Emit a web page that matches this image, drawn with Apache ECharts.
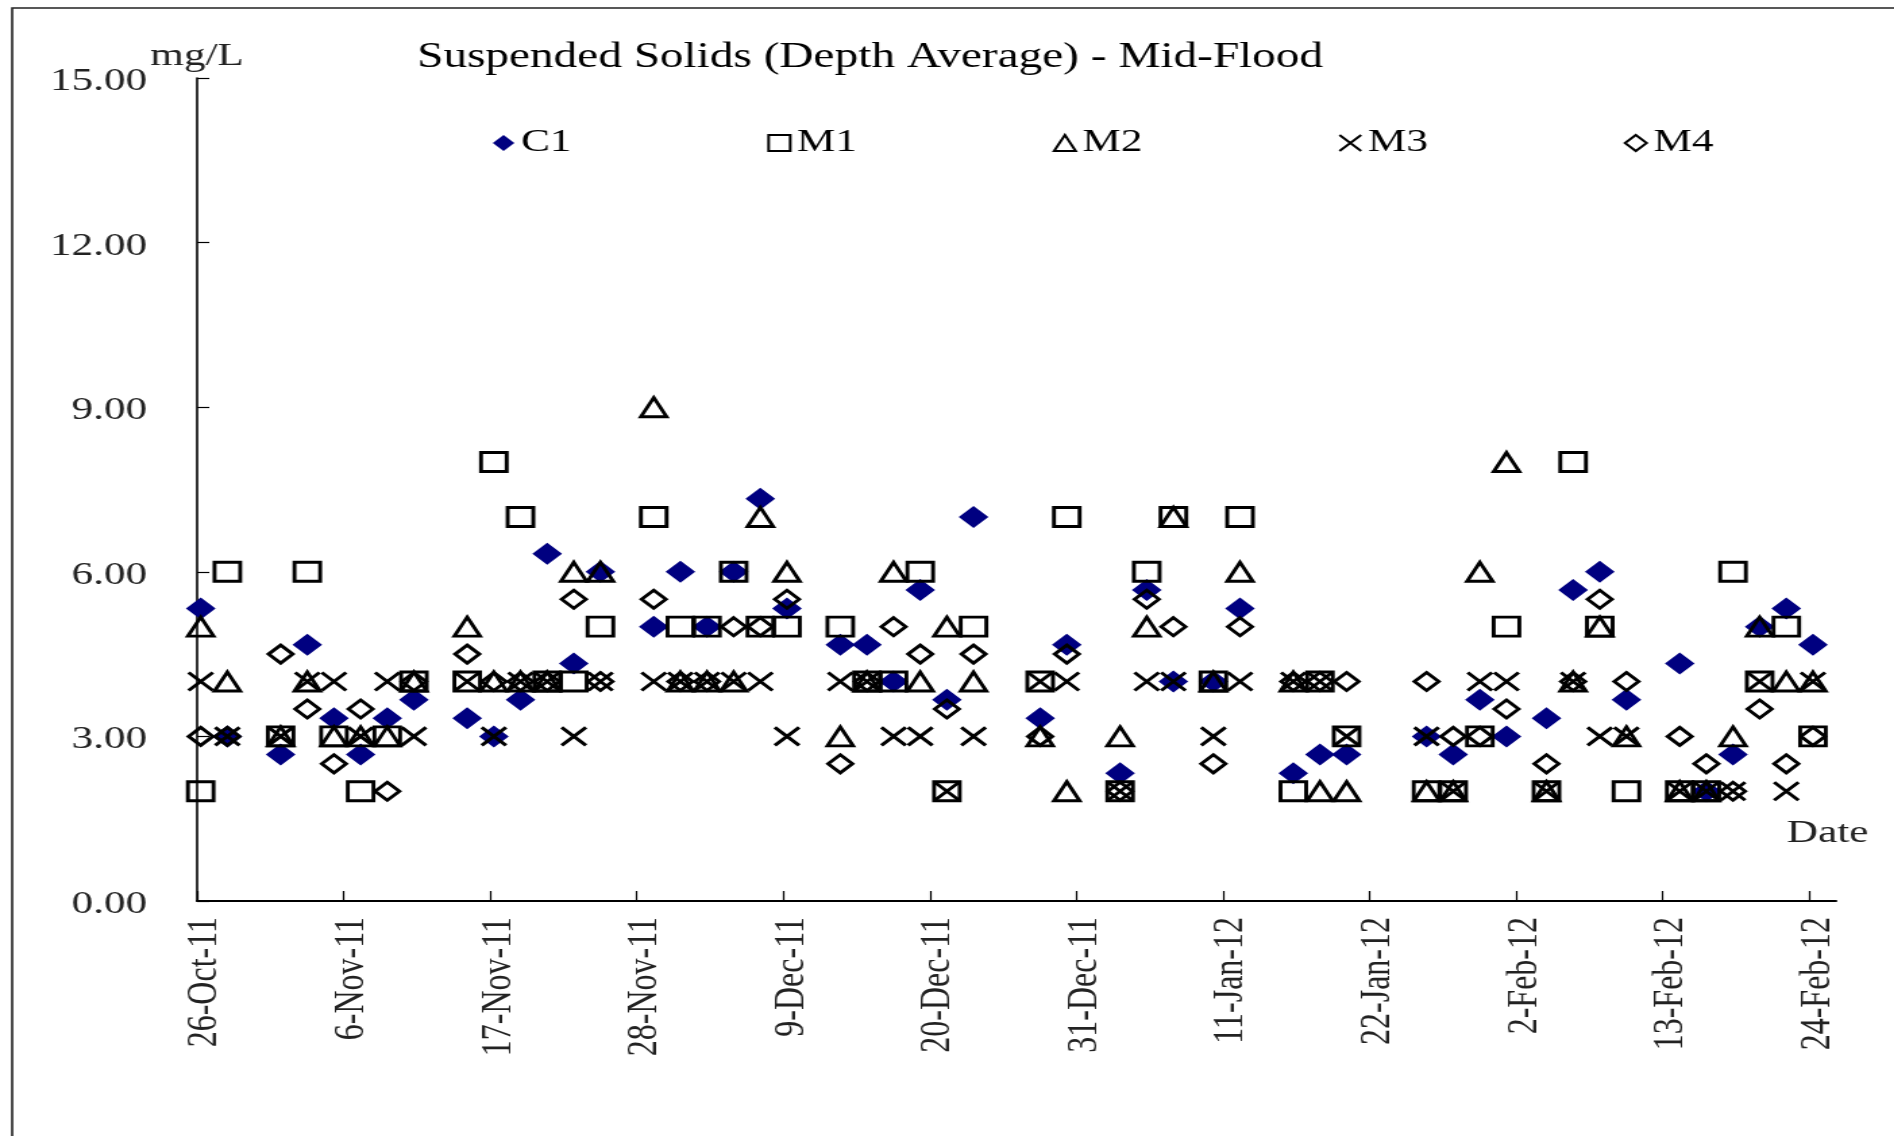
<!DOCTYPE html>
<html>
<head>
<meta charset="utf-8">
<title>Suspended Solids (Depth Average) - Mid-Flood</title>
<script src="https://cdn.jsdelivr.net/npm/echarts@6/dist/echarts.min.js"></script>
<style>
  html, body { margin: 0; padding: 0; background: #fff; overflow: hidden; }
  /* the chart is laid out on a narrower stage and widened horizontally */
  #stage { width: 1403px; height: 1136px; transform: scaleX(1.35); transform-origin: 0 0; }
</style>
</head>
<body>
<div id="stage"></div>
<script>
// Mid-flood sampling runs (date and approximate sampling time)
const sampleDates = [
  '2011-10-26T06:30', '2011-10-28T06:30', '2011-11-01T06:30', '2011-11-03T06:30', '2011-11-05T06:30',
  '2011-11-07T06:30', '2011-11-09T06:30', '2011-11-11T06:30', '2011-11-15T06:30', '2011-11-17T06:30',
  '2011-11-19T06:30', '2011-11-21T06:30', '2011-11-23T06:30', '2011-11-25T06:30', '2011-11-29T06:30',
  '2011-12-01T06:30', '2011-12-03T06:30', '2011-12-05T06:30', '2011-12-07T06:30', '2011-12-09T06:30',
  '2011-12-13T06:30', '2011-12-15T06:30', '2011-12-17T06:30', '2011-12-19T06:30', '2011-12-21T06:30',
  '2011-12-23T06:30', '2011-12-28T06:30', '2011-12-30T06:30', '2012-01-03T06:30', '2012-01-05T06:30',
  '2012-01-07T06:30', '2012-01-10T06:30', '2012-01-12T06:30', '2012-01-16T06:30', '2012-01-18T06:30',
  '2012-01-20T06:30', '2012-01-26T06:30', '2012-01-28T06:30', '2012-01-30T06:30', '2012-02-01T06:30',
  '2012-02-04T06:30', '2012-02-06T06:30', '2012-02-08T06:30', '2012-02-10T06:30', '2012-02-14T06:30',
  '2012-02-16T06:30', '2012-02-18T06:30', '2012-02-20T06:30', '2012-02-22T06:30', '2012-02-24T06:30'
];

// Depth-averaged suspended solids, mg/L, one value per sampling run
const C1 = [5.33, 3, 2.67, 4.67, 3.33, 2.67, 3.33, 3.67, 3.33, 3,
            3.67, 6.33, 4.33, 6, 5, 6, 5, 6, 7.33, 5.33,
            4.67, 4.67, 4, 5.67, 3.67, 7, 3.33, 4.67, 2.33, 5.67,
            4, 4, 5.33, 2.33, 2.67, 2.67, 3, 2.67, 3.67, 3,
            3.33, 5.67, 6, 3.67, 4.33, 2, 2.67, 5, 5.33, 4.67];
const M1 = [2, 6, 3, 6, 3, 2, 3, 4, 4, 8,
            7, 4, 4, 5, 7, 5, 5, 6, 5, 5,
            5, 4, 4, 6, 2, 5, 4, 7, 2, 6,
            7, 4, 7, 2, 4, 3, 2, 2, 3, 5,
            2, 8, 5, 2, 2, 2, 6, 4, 5, 3];
const M2 = [5, 4, 3, 4, 3, 3, 3, 4, 5, 4,
            4, 4, 6, 6, 9, 4, 4, 4, 7, 6,
            3, 4, 6, 4, 5, 4, 3, 2, 3, 5,
            7, 4, 6, 4, 2, 2, 2, 2, 6, 8,
            2, 4, 5, 3, 2, 2, 3, 5, 4, 4];
const M3 = [4, 3, 3, 4, 4, 3, 4, 3, 4, 3,
            4, 4, 3, 4, 4, 4, 4, 4, 4, 3,
            4, 4, 3, 3, 2, 3, 4, 4, 2, 4,
            4, 3, 4, 4, 4, 3, 3, 2, 4, 4,
            2, 4, 3, 3, 2, 2, 2, 4, 2, 4];
const M4 = [3, 3, 4.5, 3.5, 2.5, 3.5, 2, 4, 4.5, 4,
            4, 4, 5.5, 4, 5.5, 4, 4, 5, 5, 5.5,
            2.5, 4, 5, 4.5, 3.5, 4.5, 3, 4.5, 2, 5.5,
            5, 2.5, 5, 4, 4, 4, 4, 3, 3, 3.5,
            2.5, 4, 5.5, 4, 3, 2.5, 2, 3.5, 2.5, 3];

// Date axis: labelled every 11 days
const xTickLabels = ['26-Oct-11', '6-Nov-11', '17-Nov-11', '28-Nov-11', '9-Dec-11', '20-Dec-11',
                     '31-Dec-11', '11-Jan-12', '22-Jan-12', '2-Feb-12', '13-Feb-12', '24-Feb-12'];
const X_AXIS_START = '2011-10-26';
const X_AXIS_END = '2012-02-26';
const X_TICK_DAYS = 11;

// Concentration axis
const Y_MIN = 0, Y_MAX = 15, Y_STEP = 3;

const DAY_MS = 86400000;
const MONTHS = { Jan: 0, Feb: 1, Mar: 2, Apr: 3, May: 4, Jun: 5, Jul: 6, Aug: 7, Sep: 8, Oct: 9, Nov: 10, Dec: 11 };
const originMs = Date.parse(X_AXIS_START + 'T00:00Z');
const isoToDay = s => (Date.parse((s.length > 10 ? s : s + 'T00:00') + 'Z') - originMs) / DAY_MS;
const labelToDay = s => {
  const [d, m, y] = s.split('-');
  return (Date.UTC(2000 + Number(y), MONTHS[m], Number(d)) - originMs) / DAY_MS;
};

const sampleDays = sampleDates.map(isoToDay);
const tickDays = xTickLabels.map(labelToDay);
const labelByDay = {};
tickDays.forEach((d, i) => { labelByDay[d] = xTickLabels[i]; });

const pairs = vals => vals.map((v, i) => [sampleDays[i], v]);

const FONT = "'Liberation Serif', 'Times New Roman', serif";
const hollow = { color: 'rgba(0,0,0,0)', borderColor: '#000', borderWidth: 2.9, opacity: 1 };
const CROSS = 'path://M0,0L10,10M10,0L0,10';

const chart = echarts.init(document.getElementById('stage'), null, { renderer: 'canvas' });

chart.setOption({
  backgroundColor: '#fff',
  animation: false,
  title: {
    text: 'Suspended Solids (Depth Average) - Mid-Flood',
    left: 309,
    top: 40,
    padding: 0,
    textStyle: { fontFamily: FONT, fontSize: 35, fontWeight: 'normal', color: '#000' }
  },
  legend: {
    data: ['C1', 'M1', 'M2', 'M3', 'M4'],
    left: 365,
    top: 127,
    padding: 0,
    itemGap: 145,
    itemWidth: 16,
    itemHeight: 16,
    textStyle: { fontFamily: FONT, fontSize: 32, color: '#000' }
  },
  graphic: [{
    type: 'rect',
    silent: true,
    shape: { x: 9, y: 8, width: 3000, height: 3000 },
    style: { fill: 'none', stroke: '#222', lineWidth: 1.6 }
  }],
  grid: { left: 146, right: 43, top: 78, bottom: 235, containLabel: false },
  xAxis: {
    type: 'value',
    min: 0,
    max: isoToDay(X_AXIS_END),
    interval: X_TICK_DAYS,
    name: 'Date',
    nameLocation: 'end',
    nameGap: 24,
    nameMoveOverlap: false,
    nameTextStyle: {
      fontFamily: FONT, fontSize: 32, color: '#222',
      align: 'right', verticalAlign: 'bottom', padding: [0, 0, 51, 0]
    },
    splitLine: { show: false },
    axisLine: { onZero: false, lineStyle: { color: '#000', width: 2 } },
    axisTick: { inside: true, length: 10, customValues: tickDays, lineStyle: { color: '#000', width: 1.2 } },
    axisLabel: {
      customValues: tickDays,
      rotate: 90,
      margin: 16,
      fontFamily: FONT,
      fontSize: 32,
      color: '#222',
      formatter: v => labelByDay[v] ? '{d|' + labelByDay[v] + '}' : '',
      rich: { d: { fontFamily: FONT, fontSize: 32, color: '#222', padding: [12, 0, 0, 0] } }
    }
  },
  yAxis: {
    type: 'value',
    min: Y_MIN,
    max: Y_MAX,
    interval: Y_STEP,
    name: 'mg/L',
    nameLocation: 'end',
    nameGap: 21,
    nameMoveOverlap: false,
    nameTextStyle: { fontFamily: FONT, fontSize: 32, color: '#222', align: 'center', verticalAlign: 'middle' },
    splitLine: { show: false },
    axisLine: { lineStyle: { color: '#000', width: 1.6 } },
    axisTick: { inside: true, length: 9, lineStyle: { color: '#000', width: 1.2 } },
    axisLabel: {
      margin: 37,
      fontFamily: FONT,
      fontSize: 32,
      color: '#222',
      formatter: v => '{v|' + v.toFixed(2) + '}',
      rich: { v: { fontFamily: FONT, fontSize: 32, color: '#222', padding: [7, 0, 0, 0] } }
    }
  },
  series: [
    { name: 'C1', type: 'scatter', symbol: 'diamond', symbolSize: 22,
      itemStyle: { color: '#000080', opacity: 1 }, data: pairs(C1) },
    { name: 'M1', type: 'scatter', symbol: 'rect', symbolSize: 19,
      itemStyle: hollow, data: pairs(M1) },
    { name: 'M2', type: 'scatter', symbol: 'triangle', symbolSize: 19,
      itemStyle: hollow, data: pairs(M2) },
    { name: 'M3', type: 'scatter', symbol: CROSS, symbolSize: 18,
      itemStyle: hollow, data: pairs(M3) },
    { name: 'M4', type: 'scatter', symbol: 'diamond', symbolSize: 18,
      itemStyle: hollow, data: pairs(M4) }
  ].map(s => Object.assign({ emphasis: { disabled: true }, clip: false }, s))
});
</script>
</body>
</html>
